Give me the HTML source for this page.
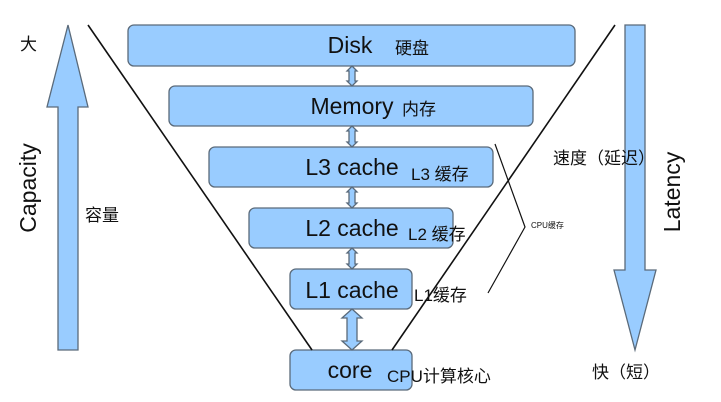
<!DOCTYPE html>
<html><head><meta charset="utf-8"><style>
html,body{margin:0;padding:0;background:#fff;}
svg{display:block;font-family:"Liberation Sans","Noto Sans CJK SC",sans-serif;}
</style></head><body>
<svg width="721" height="402" viewBox="0 0 721 402" xmlns="http://www.w3.org/2000/svg">
<g fill="#99ccff" stroke="#5a6a7a" stroke-width="1.3">
<polygon points="68,25 88,107 78,107 78,350 58,350 58,107 47,107"/>
<polygon points="625,25 645,25 645,270 656,270 635,350 614,270 625,270"/>
<rect x="128" y="25" width="447" height="41" rx="6"/>
<rect x="169" y="86" width="364" height="40" rx="6"/>
<rect x="209" y="147" width="284" height="40" rx="6"/>
<rect x="249" y="208" width="204" height="40" rx="6"/>
<rect x="290" y="269" width="122" height="40" rx="6"/>
<rect x="290" y="350" width="122" height="40" rx="6"/>
<polygon points="352,66 357,71 355,71 355,81 357,81 352,86 347,81 349,81 349,71 347,71"/>
<polygon points="352,126 357,131 355,131 355,142 357,142 352,147 347,142 349,142 349,131 347,131"/>
<polygon points="352,187 357,192 355,192 355,203 357,203 352,208 347,203 349,203 349,192 347,192"/>
<polygon points="352,248 357,253 355,253 355,264 357,264 352,269 347,264 349,264 349,253 347,253"/>
<polygon points="352,309 362,318 357,318 357,341 362,341 352,350 342,341 347,341 347,318 342,318"/>
</g>
<g stroke="#111" stroke-width="1.6" fill="none">
<line x1="88" y1="25" x2="312" y2="350"/>
<line x1="615" y1="25" x2="392" y2="350"/>
<polyline points="495,144 525,227 488,293" stroke-width="1.2"/>
</g>
<g fill="#111" font-size="23" text-anchor="middle">
<text x="350" y="53">Disk</text>
<text x="352" y="114">Memory</text>
<text x="352" y="175">L3 cache</text>
<text x="352" y="236">L2 cache</text>
<text x="352" y="298">L1 cache</text>
<text x="350" y="378">core</text>
</g>
<g fill="#111" font-size="17">
<text x="395" y="54">硬盘</text>
<text x="402" y="115">内存</text>
<text x="411" y="180">L3 缓存</text>
<text x="408" y="240">L2 缓存</text>
<text x="414" y="301">L1缓存</text>
<text x="387" y="382">CPU计算核心</text>
<text x="20" y="50">大</text>
<text x="85" y="221">容量</text>
<text x="553" y="164">速度（延迟）</text>
<text x="592" y="378">快（短）</text>
<text x="531" y="228" font-size="8">CPU缓存</text>
</g>
<text x="0" y="0" font-size="23" fill="#111" text-anchor="middle" transform="translate(36,188) rotate(-90)">Capacity</text>
<text x="0" y="0" font-size="23" fill="#111" text-anchor="middle" transform="translate(680,192) rotate(-90)">Latency</text>
</svg>
</body></html>
